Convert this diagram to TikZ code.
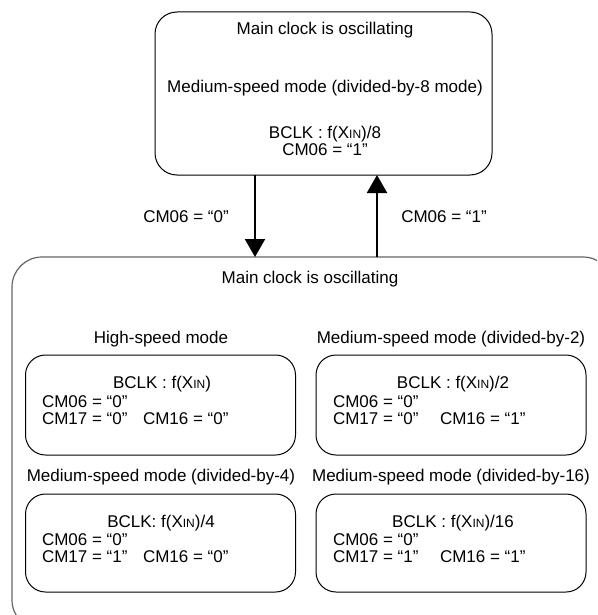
\documentclass[tikz,border=0pt]{standalone}
\usepackage{fontspec}
\setmainfont{Liberation Sans}
\usetikzlibrary{arrows.meta}
\newcommand{\xin}{X{\fontsize{12}{12}\selectfont IN}}
\begin{document}
\begin{tikzpicture}[x=1pt,y=-1pt,
  every node/.style={font=\fontsize{17}{19}\selectfont, inner sep=0pt, outer sep=0pt},
  modebox/.style={draw=black, line width=1pt, rounded corners=20pt, minimum width=270pt, minimum height=100pt},
  topbox/.style={draw=black, line width=1pt, rounded corners=22pt, minimum width=337pt, minimum height=163pt},
  outerbox/.style={draw=black!60, line width=1.2pt, rounded corners=30pt, minimum width=601pt, minimum height=373pt},
  flow/.style={line width=2pt, -{Triangle[width=20pt,length=18pt]}},
  txt/.style={anchor=center},
  ltxt/.style={anchor=west}]
\useasboundingbox (0,0) rectangle (597,615);
\fill[white] (0,0) rectangle (597,615);

% top state
\node[topbox] (top) at (323.5,93.5) {};
\node[txt] (t1) at (325,30) {Main clock is oscillating};
\node[txt] (t2) at (325,88) {Medium-speed mode (divided-by-8 mode)};
\node[txt] (t3) at (325,134.5) {BCLK : f(\xin)/8};
\node[txt] (t4) at (325,150) {CM06 = “1”};

% outer state (partly outside the page)
\begin{scope}
\clip (0,0) rectangle (597,615);
\node[outerbox] (outer) at (312.5,443.5) {};
\end{scope}
\node[txt] (o1) at (310,279) {Main clock is oscillating};

% transitions
\coordinate (dn) at (255,0);
\coordinate (up) at (377,0);
\draw[flow] (top.south -| dn) -- (outer.north -| dn);
\draw[flow] (outer.north -| up) -- (top.south -| up);
\node[txt] (l0) at (186,217) {CM06 = “0”};
\node[txt] (l1) at (444,217) {CM06 = “1”};

% high-speed mode
\node[txt] (hsl) at (161,339) {High-speed mode};
\node[modebox] (hs) at (160.5,405) {};
\node[txt] (hs1) at (162,384) {BCLK : f(\xin)};
\node[ltxt] (hs2) at (42,402) {CM06 = “0”};
\node[ltxt] (hs3) at (42,419) {CM17 = “0”};
\node[ltxt] (hs4) at (143,419) {CM16 = “0”};

% divided-by-2
\node[txt] (d2l) at (451,339) {Medium-speed mode (divided-by-2)};
\node[modebox] (d2) at (451,405) {};
\node[txt] (d21) at (453,384) {BCLK : f(\xin)/2};
\node[ltxt] (d22) at (333,402) {CM06 = “0”};
\node[ltxt] (d23) at (333,419) {CM17 = “0”};
\node[ltxt] (d24) at (440,419) {CM16 = “1”};

% divided-by-4
\node[txt] (d4l) at (161,477) {Medium-speed mode (divided-by-4)};
\node[modebox, minimum height=98pt] (d4) at (160.5,543) {};
\node[txt] (d41) at (161,523) {BCLK: f(\xin)/4};
\node[ltxt] (d42) at (42,540) {CM06 = “0”};
\node[ltxt] (d43) at (42,557) {CM17 = “1”};
\node[ltxt] (d44) at (143,557) {CM16 = “0”};

% divided-by-16
\node[txt] (d16l) at (451,477) {Medium-speed mode (divided-by-16)};
\node[modebox, minimum height=98pt] (d16) at (451,543) {};
\node[txt] (d161) at (453,523) {BCLK : f(\xin)/16};
\node[ltxt] (d162) at (333,540) {CM06 = “0”};
\node[ltxt] (d163) at (333,557) {CM17 = “1”};
\node[ltxt] (d164) at (440,557) {CM16 = “1”};
\end{tikzpicture}
\end{document}
